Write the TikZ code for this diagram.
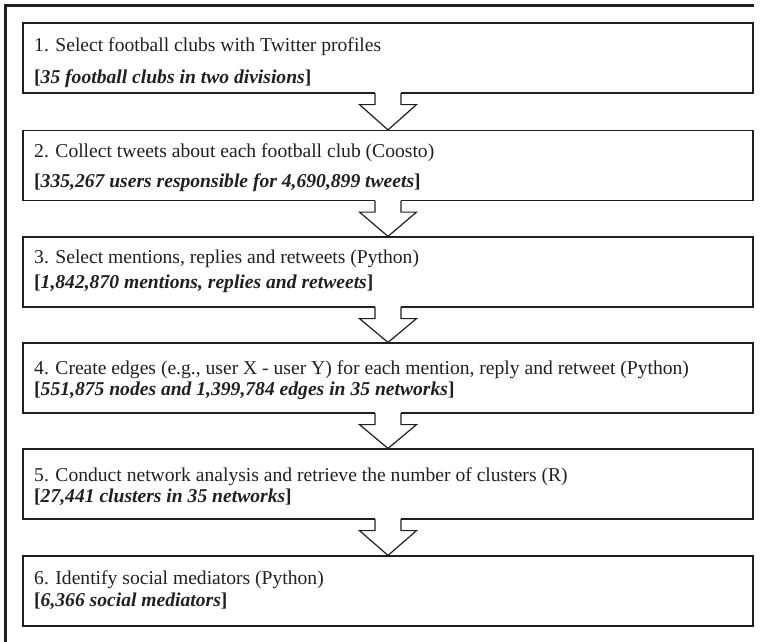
\documentclass[tikz,border=0pt]{standalone}
\usepackage{fontspec}
\setmainfont{Liberation Serif}
\usetikzlibrary{calc}
\definecolor{ink}{HTML}{231F20}
\newcommand\flowarrow[2]{%
  \fill[white] ($(#1.south)+(-13,-1.4)$) rectangle ($(#1.south)+(13,11)$);
  \draw[arrowline] ($(#1.south)+(-13,-0.6)$) -- ($(#1.south)+(-13,11)$) -- ($(#1.south)+(-28.5,11)$) -- (#2.north)
    -- ($(#1.south)+(28.5,11)$) -- ($(#1.south)+(13,11)$) -- ($(#1.south)+(13,-0.6)$);}
\begin{document}
\begin{tikzpicture}[x=1pt,y=-1pt,
  stepbox/.style={draw=ink, line width=1.2pt, minimum width=730pt, minimum height=70pt, inner sep=0pt},
  plainline/.style={anchor=base west, inner sep=0pt, text=ink, font=\fontsize{19.6}{22}\selectfont},
  boldline/.style={plainline, font=\fontsize{19.6}{22}\selectfont\bfseries},
  arrowline/.style={draw=ink, line width=1.2pt, line join=miter},
  frameline/.style={draw=ink, line width=2.5pt}]
\useasboundingbox (0,0) rectangle (760,642);
\draw[frameline] (5.5,642) -- (5.5,5.5) -- (754,5.5);

\node[stepbox] (b1) at (388,58) {};
\node[stepbox] (b2) at (388,165.5) {};
\node[stepbox] (b3) at (388,272) {};
\node[stepbox] (b4) at (388,378) {};
\node[stepbox] (b5) at (388,484) {};
\node[stepbox] (b6) at (388,591) {};

\node[plainline] (t1) at (34,52) {1. Select football clubs with Twitter profiles};
\node[boldline]  (s1) at (34,83) {[\textit{35 football clubs in two divisions}]};
\node[plainline] (t2) at (34,157) {2. Collect tweets about each football club (Coosto)};
\node[boldline]  (s2) at (34,187) {[\textit{335,267 users responsible for 4,690,899 tweets}]};
\node[plainline] (t3) at (34,263) {3. Select mentions, replies and retweets (Python)};
\node[boldline]  (s3) at (34,288) {[\textit{1,842,870 mentions, replies and retweets}]};
\node[plainline] (t4) at (34,374) {4. Create edges (e.g., user X - user Y) for each mention, reply and retweet (Python)};
\node[boldline]  (s4) at (34,395) {[\textit{551,875 nodes and 1,399,784 edges in 35 networks}]};
\node[plainline] (t5) at (34,481) {5. Conduct network analysis and retrieve the number of clusters (R)};
\node[boldline]  (s5) at (34,502) {[\textit{27,441 clusters in 35 networks}]};
\node[plainline] (t6) at (34,584) {6. Identify social mediators (Python)};
\node[boldline]  (s6) at (34,606) {[\textit{6,366 social mediators}]};

\flowarrow{b1}{b2}
\flowarrow{b2}{b3}
\flowarrow{b3}{b4}
\flowarrow{b4}{b5}
\flowarrow{b5}{b6}
\end{tikzpicture}
\end{document}
